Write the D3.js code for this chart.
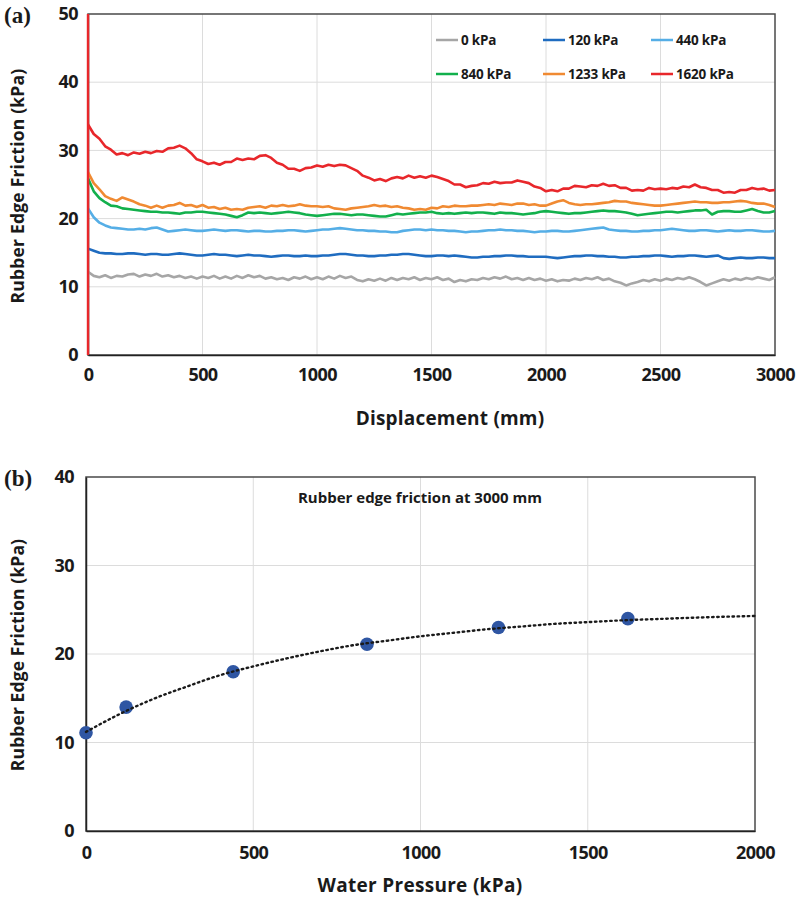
<!DOCTYPE html>
<html><head><meta charset="utf-8">
<script src="https://cdn.jsdelivr.net/npm/d3@7"></script>
<style>
html,body{margin:0;padding:0;background:#fff;}
text{font-family:"Open Sans",Lato,sans-serif;font-weight:bold;fill:#1a1a1a;}
</style></head>
<body><svg id="chart" width="806" height="899"></svg>
<script>
// ---------- Data: panel (a) ----------
const seriesNames = ["0 kPa","120 kPa","440 kPa","840 kPa","1233 kPa","1620 kPa"];
const seriesColors = ["#a6a6a6","#1f6cc0","#55aee6","#12b04c","#f08a32","#e8272b"];
const displacementStep = 25; // mm between samples
const friction0 = [12.2,11.6,11.4,11.7,11.3,11.6,11.5,11.8,11.9,11.5,11.8,11.6,11.9,11.5,11.7,11.4,11.6,11.3,11.5,11.2,
 11.5,11.3,11.6,11.2,11.5,11.2,11.6,11.3,11.7,11.4,11.6,11.2,11.4,11.1,11.3,11.0,11.4,11.2,11.5,11.1,
 11.4,11.1,11.5,11.2,11.6,11.3,11.5,11.0,10.8,11.1,10.9,11.2,10.9,11.3,11.0,11.3,11.1,11.4,11.0,11.3,
 11.1,11.4,11.0,11.2,10.7,11.0,10.8,11.1,11.0,11.3,11.1,11.4,11.2,11.5,11.1,11.3,11.0,11.3,11.0,11.2,
 10.9,11.1,10.8,11.0,10.9,11.2,11.0,11.3,11.1,11.4,11.0,11.2,10.8,10.6,10.2,10.5,10.7,11.0,10.8,11.1,
 10.9,11.2,11.0,11.3,11.1,11.4,11.1,10.7,10.2,10.5,10.8,11.1,10.9,11.2,11.0,11.3,11.1,11.4,11.2,11.0,
 11.4];
const friction120 = [15.6,15.3,15.0,14.9,14.9,14.8,14.8,14.9,14.9,14.8,14.7,14.8,14.8,14.7,14.7,14.8,14.9,14.8,14.7,14.6,
 14.6,14.7,14.8,14.7,14.7,14.6,14.5,14.6,14.7,14.6,14.6,14.5,14.4,14.5,14.6,14.6,14.5,14.5,14.6,14.5,
 14.5,14.6,14.6,14.7,14.8,14.8,14.7,14.6,14.6,14.5,14.5,14.6,14.6,14.7,14.7,14.8,14.8,14.7,14.6,14.5,
 14.5,14.6,14.6,14.5,14.6,14.5,14.4,14.3,14.3,14.4,14.4,14.5,14.5,14.6,14.6,14.5,14.5,14.4,14.4,14.4,
 14.4,14.3,14.2,14.3,14.4,14.5,14.5,14.6,14.6,14.5,14.5,14.4,14.4,14.3,14.3,14.4,14.4,14.5,14.5,14.6,
 14.6,14.5,14.4,14.5,14.5,14.6,14.6,14.5,14.4,14.5,14.6,14.2,14.1,14.2,14.3,14.2,14.2,14.3,14.3,14.2,
 14.2];
const friction440 = [21.5,20.2,19.4,19.0,18.7,18.6,18.5,18.4,18.4,18.5,18.4,18.6,18.7,18.4,18.1,18.2,18.3,18.4,18.3,18.2,
 18.2,18.3,18.4,18.3,18.2,18.3,18.3,18.2,18.1,18.2,18.2,18.1,18.1,18.2,18.2,18.3,18.3,18.2,18.1,18.2,
 18.3,18.4,18.4,18.5,18.6,18.5,18.4,18.3,18.3,18.2,18.2,18.1,18.1,18.0,18.0,18.2,18.3,18.4,18.4,18.3,
 18.4,18.3,18.3,18.2,18.2,18.1,18.0,18.1,18.1,18.2,18.3,18.3,18.4,18.3,18.3,18.2,18.2,18.1,18.0,18.1,
 18.1,18.2,18.2,18.1,18.1,18.2,18.3,18.4,18.5,18.6,18.7,18.4,18.3,18.2,18.2,18.1,18.1,18.2,18.2,18.3,
 18.3,18.4,18.5,18.4,18.3,18.2,18.2,18.3,18.3,18.2,18.1,18.2,18.3,18.2,18.2,18.3,18.3,18.2,18.1,18.1,
 18.2];
const friction840 = [25.9,24.0,23.0,22.4,21.9,21.8,21.5,21.4,21.3,21.2,21.1,21.0,21.0,20.9,20.9,20.8,20.7,20.9,20.9,21.0,
 21.0,20.9,20.8,20.7,20.6,20.4,20.2,20.5,20.9,20.8,20.9,20.8,20.7,20.8,20.9,21.0,20.9,20.8,20.6,20.5,
 20.4,20.5,20.6,20.7,20.7,20.6,20.5,20.6,20.6,20.5,20.4,20.3,20.3,20.5,20.7,20.6,20.7,20.8,20.9,20.9,
 21.0,20.8,20.7,20.8,20.7,20.8,20.9,20.8,20.9,20.9,20.8,20.7,20.9,20.8,20.8,20.7,20.6,20.7,20.8,21.0,
 21.1,21.0,20.9,20.8,20.7,20.8,20.8,20.9,21.0,21.1,21.2,21.1,21.1,21.0,20.9,20.7,20.5,20.6,20.7,20.8,
 20.9,21.0,21.0,20.9,21.0,21.1,21.2,21.2,21.3,20.6,21.0,21.1,21.1,21.0,21.0,21.2,21.4,21.1,20.9,20.9,
 21.1];
const friction1233 = [26.8,25.2,24.3,23.3,22.9,22.6,23.1,22.8,22.5,22.1,21.9,21.6,21.9,21.6,21.9,22.0,22.3,21.9,22.0,21.7,
 22.0,21.6,21.7,21.4,21.6,21.3,21.4,21.3,21.6,21.7,21.8,21.6,21.9,21.8,22.0,21.8,21.9,22.1,21.9,21.8,
 21.8,21.7,21.8,21.5,21.4,21.3,21.5,21.6,21.7,21.8,22.0,21.8,21.9,21.7,21.8,21.6,21.5,21.3,21.4,21.3,
 21.6,21.5,21.8,21.7,21.9,21.8,21.8,21.9,21.9,22.0,22.1,22.0,22.2,22.1,22.0,22.2,22.2,22.0,22.1,21.9,
 21.9,22.2,22.5,22.7,22.3,22.1,22.0,22.1,22.1,22.2,22.3,22.4,22.6,22.5,22.5,22.3,22.2,22.1,22.0,21.9,
 21.9,22.0,22.1,22.2,22.3,22.4,22.5,22.4,22.4,22.3,22.3,22.4,22.4,22.5,22.6,22.5,22.3,22.2,22.2,22.0,
 21.7];
const friction1620 = [33.8,32.4,31.7,30.6,30.1,29.4,29.6,29.3,29.7,29.5,29.8,29.6,29.9,29.8,30.3,30.4,30.7,30.3,29.6,28.7,
 28.4,28.0,28.2,27.9,28.3,28.3,28.8,28.6,28.8,28.7,29.2,29.3,28.9,28.2,27.9,27.3,27.3,27.0,27.4,27.5,
 27.8,27.6,27.9,27.7,27.9,27.8,27.4,27.0,26.3,26.0,25.6,25.8,25.5,25.9,26.1,25.9,26.3,26.0,26.2,26.0,
 26.3,26.1,25.8,25.5,25.0,25.0,24.6,24.8,24.9,25.2,25.1,25.4,25.2,25.3,25.3,25.6,25.4,25.2,24.7,24.5,
 24.0,24.2,24.0,24.4,24.4,24.8,24.7,24.6,24.9,24.8,25.1,24.8,24.9,24.5,24.5,24.1,24.2,24.1,24.5,24.3,
 24.4,24.3,24.5,24.4,24.7,24.6,25.0,24.6,24.5,24.2,24.2,23.8,23.9,23.8,24.2,24.2,24.5,24.3,24.4,24.1,
 24.2];
const seriesValues = [friction0, friction120, friction440, friction840, friction1233, friction1620];
// initial loading spike of the 1620 kPa test at 0 mm
const spike1620 = [0, 50, 33.8];
const xTicksA = [0,500,1000,1500,2000,2500,3000];
const yTicksA = [0,10,20,30,40,50];

// ---------- Data: panel (b) ----------
const waterPressure = [0,120,440,840,1233,1620];
const frictionAt3000 = [11.1,14.0,18.0,21.1,23.0,24.0];
const trendX = [0,100,200,300,400,500,600,700,800,900,1000,1100,1200,1300,1400,1500,1600,1700,1800,1900,2000];
const trendY = [11.2,13.2,14.9,16.3,17.6,18.6,19.5,20.3,21.0,21.5,22.0,22.4,22.8,23.1,23.4,23.6,23.8,23.94,24.08,24.2,24.3];
const xTicksB = [0,500,1000,1500,2000];
const yTicksB = [0,10,20,30,40];

// ---------- Drawing ----------
const svg = d3.select("#chart");
const gridColor = "#dcdcdc";
const FONT = "'Open Sans',Lato,sans-serif";

function panel(opt){
  const g = svg.append("g");
  const x = d3.scaleLinear().domain(opt.xDomain).range([opt.left, opt.right]);
  const y = d3.scaleLinear().domain(opt.yDomain).range([opt.bottom, opt.top]);
  g.append("g").selectAll("line").data(opt.xTicks.slice(1,-1)).join("line")
    .attr("x1",d=>x(d)).attr("x2",d=>x(d)).attr("y1",opt.top).attr("y2",opt.bottom)
    .attr("stroke",gridColor).attr("stroke-width",1);
  g.append("g").selectAll("line").data(opt.yTicks.slice(1,-1)).join("line")
    .attr("y1",d=>y(d)).attr("y2",d=>y(d)).attr("x1",opt.left).attr("x2",opt.right)
    .attr("stroke",gridColor).attr("stroke-width",1);
  g.append("rect").attr("x",opt.left).attr("y",opt.top)
    .attr("width",opt.right-opt.left).attr("height",opt.bottom-opt.top)
    .attr("fill","none").attr("stroke","#4a4a4a").attr("stroke-width",1.5);
  const ax = g.append("g").attr("transform",`translate(0,${opt.bottom})`)
    .call(d3.axisBottom(x).tickValues(opt.xTicks).tickSize(0).tickPadding(opt.xPad).tickFormat(d3.format("d")));
  ax.select(".domain").attr("stroke","#222").attr("stroke-width",1.5);
  ax.selectAll("text").attr("font-size",18).attr("font-family",FONT).attr("font-weight","bold")
    .attr("fill","#1a1a1a").attr("letter-spacing",-0.6);
  const ay = g.append("g").attr("transform",`translate(${opt.left},0)`)
    .call(d3.axisLeft(y).tickValues(opt.yTicks).tickSize(0).tickPadding(opt.yPad).tickFormat(d3.format("d")));
  ay.select(".domain").attr("stroke","#222").attr("stroke-width",1.5);
  ay.selectAll("text").attr("font-size",18).attr("font-family",FONT).attr("font-weight","bold")
    .attr("fill","#1a1a1a").attr("letter-spacing",-0.6);
  return {g,x,y};
}

// Panel (a)
const A = panel({xDomain:[0,3000], yDomain:[0,50], left:88, right:775, top:14, bottom:355,
  xTicks:xTicksA, yTicks:yTicksA, xPad:13, yPad:10});
const line = d3.line().x(d=>A.x(d[0])).y(d=>A.y(d[1]));
const linesA = A.g.append("g");
seriesValues.forEach((vals,i)=>{
  const pts = vals.map((v,k)=>[k*displacementStep, v]);
  linesA.append("path").datum(pts).attr("d",line)
    .attr("fill","none").attr("stroke",seriesColors[i]).attr("stroke-width",2.6)
    .attr("stroke-linejoin","round");
});
linesA.append("path").datum(spike1620.map(v=>[0,v])).attr("d",line)
  .attr("fill","none").attr("stroke",seriesColors[5]).attr("stroke-width",2.4);

// legend (a)
const legPos = [[436,40],[543,40],[651,40],[436,74],[543,74],[651,74]];
seriesNames.forEach((n,i)=>{
  const [lx,ly] = legPos[i];
  A.g.append("line").attr("x1",lx).attr("x2",lx+22).attr("y1",ly).attr("y2",ly)
    .attr("stroke",seriesColors[i]).attr("stroke-width",2.5);
  A.g.append("text").attr("x",lx+25).attr("y",ly).attr("dy","0.35em")
    .attr("font-size",13.5).attr("letter-spacing",-0.2).text(n);
});
svg.append("text").attr("x",18).attr("y",186).attr("transform","rotate(-90,18,186)")
  .attr("text-anchor","middle").attr("dy","0.35em").attr("font-size",17.5).attr("letter-spacing",0.2)
  .text("Rubber  Edge Friction (kPa)");
svg.append("text").attr("x",450).attr("y",418).attr("text-anchor","middle").attr("dy","0.35em")
  .attr("font-size",19).attr("letter-spacing",0.2).text("Displacement (mm)");
svg.append("text").attr("x",4).attr("y",15).attr("dy","0.35em")
  .style("font-family","'Liberation Serif','Times New Roman',serif").attr("font-size",23).text("(a)");

// Panel (b)
const B = panel({xDomain:[0,2000], yDomain:[0,40], left:86, right:755, top:477, bottom:831,
  xTicks:xTicksB, yTicks:yTicksB, xPad:15, yPad:12});
const trend = trendX.map((v,i)=>[v,trendY[i]]);
const trendLine = d3.line().curve(d3.curveMonotoneX).x(d=>B.x(d[0])).y(d=>B.y(d[1]));
B.g.append("g").selectAll("circle").data(waterPressure).join("circle")
  .attr("cx",d=>B.x(d)).attr("cy",(d,i)=>B.y(frictionAt3000[i])).attr("r",6.8)
  .attr("fill","#2f56a3");
B.g.append("path").datum(trend).attr("d",trendLine)
  .attr("fill","none").attr("stroke","#1a1a1a").attr("stroke-width",2.4)
  .attr("stroke-dasharray","1.5,3.6").attr("stroke-linecap","round");
svg.append("text").attr("x",420).attr("y",498).attr("text-anchor","middle").attr("dy","0.35em")
  .attr("font-size",15).text("Rubber edge friction at 3000 mm");
svg.append("text").attr("x",18).attr("y",655).attr("transform","rotate(-90,18,655)")
  .attr("text-anchor","middle").attr("dy","0.35em").attr("font-size",17.5).attr("letter-spacing",0.1)
  .text("Rubber Edge Friction (kPa)");
svg.append("text").attr("x",420).attr("y",885).attr("text-anchor","middle").attr("dy","0.35em")
  .attr("font-size",19).attr("letter-spacing",0.3).text("Water Pressure (kPa)");
svg.append("text").attr("x",4).attr("y",478).attr("dy","0.35em")
  .style("font-family","'Liberation Serif','Times New Roman',serif").attr("font-size",23).text("(b)");
</script></body></html>
